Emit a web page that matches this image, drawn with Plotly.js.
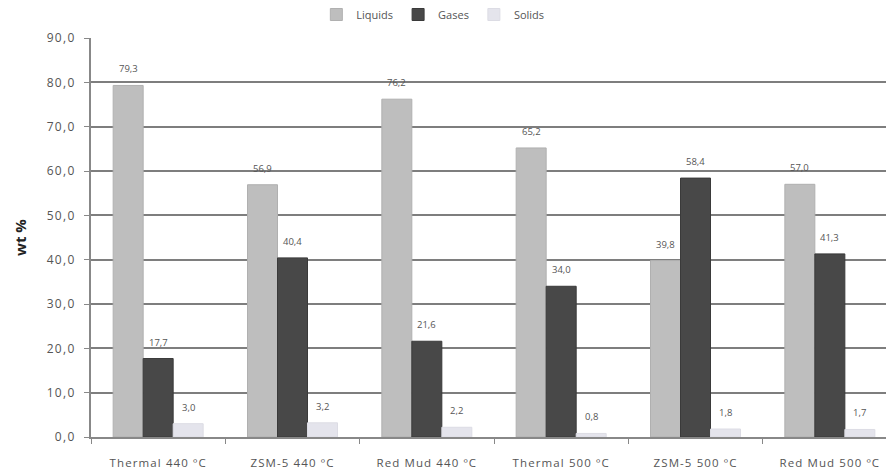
<!DOCTYPE html>
<html>
<head>
<meta charset="utf-8">
<script src="https://cdn.plot.ly/plotly-3.0.1.min.js"></script>
<style>
html,body{margin:0;padding:0;background:#fff;overflow:hidden}
.xtick text{letter-spacing:1.1px}
.ytick text{letter-spacing:1.3px}
</style>
</head>
<body>
<div id="chart" style="width:886px;height:474px"></div>
<script>
var categories = ["Thermal 440 ºC", "ZSM-5 440 ºC", "Red Mud 440 ºC", "Thermal 500 ºC", "ZSM-5 500 ºC", "Red Mud 500 ºC"];
var liquids = [79.3, 56.9, 76.2, 65.2, 39.8, 57.0];
var gases   = [17.7, 40.4, 21.6, 34.0, 58.4, 41.3];
var solids  = [3.0, 3.2, 2.2, 0.8, 1.8, 1.7];
var seriesNames = ["Liquids", "Gases", "Solids"];
var yTicks = [0, 10, 20, 30, 40, 50, 60, 70, 80, 90];

var seriesData = [liquids, gases, solids];
var colors = ["#bebebe", "#484848", "#e4e4ec"];
var lineColors = ["#b0b0b0", "#3a3a3a", "#dcdce4"];
var fmt = function (v) { return v.toFixed(1).replace(".", ","); };

var traces = seriesData.map(function (vals, i) {
  return {
    type: "bar",
    name: seriesNames[i],
    x: categories,
    y: vals,
    marker: { color: colors[i], line: { color: lineColors[i], width: 1 } },
    hoverinfo: "none"
  };
});

var shifts = [-30, 0, 30];
var annotations = [];
seriesData.forEach(function (vals, i) {
  vals.forEach(function (v, j) {
    annotations.push({
      x: categories[j], y: v, xref: "x", yref: "y",
      text: fmt(v), showarrow: false,
      xshift: shifts[i], yshift: 8, yanchor: "bottom",
      font: { family: "Open Sans, sans-serif", size: 9.5, color: "#555" }
    });
  });
});

var layout = {
  width: 886, height: 474,
  margin: { l: 91, r: 0, t: 38, b: 37 },
  paper_bgcolor: "#fff", plot_bgcolor: "#fff",
  separators: ",.",
  barmode: "group",
  bargap: 0.33, bargroupgap: 0,
  font: { family: "Open Sans, sans-serif", size: 10, color: "#555" },
  showlegend: true,
  legend: {
    orientation: "h", x: 0.43, xanchor: "center",
    y: 1.0, yref: "container", yanchor: "top",
    font: { size: 11, color: "#555" },
    traceorder: "normal", itemwidth: 30
  },
  xaxis: {
    type: "category",
    range: [-0.5, 5.418],
    tickson: "boundaries",
    ticks: "outside", ticklen: 5, tickcolor: "#888",
    showline: true, linecolor: "#888", linewidth: 2,
    showgrid: false,
    tickfont: { size: 11.5, color: "#555" },
    ticklabelstandoff: 14,
    automargin: false
  },
  yaxis: {
    range: [0, 90],
    tickvals: yTicks,
    tickformat: ".1f",
    ticks: "outside", ticklen: 5, tickcolor: "#888",
    showline: true, linecolor: "#888", linewidth: 2,
    showgrid: true, gridcolor: "#7e7e7e", gridwidth: 2,
    zeroline: false,
    tickfont: { size: 12, color: "#555" },
    ticklabelstandoff: 6,
    title: { text: "<b>wt %</b>", font: { size: 15, color: "#222" }, standoff: 16 },
    automargin: false
  },
  annotations: annotations
};

Plotly.newPlot("chart", traces, layout, { displayModeBar: false, staticPlot: true });
</script>
</body>
</html>
